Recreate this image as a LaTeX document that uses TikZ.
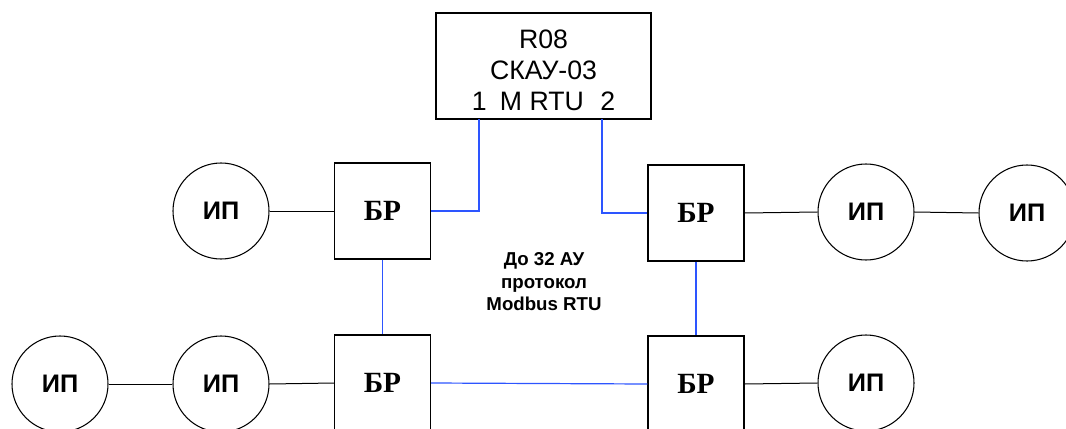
\documentclass[tikz,border=0pt]{standalone}
\usepackage{fontspec}
\setmainfont{Liberation Sans}
\newfontfamily\brfont{Liberation Serif}
\definecolor{busblue}{RGB}{45,85,255}
\begin{document}
\begin{tikzpicture}[x=0.75pt,y=-0.75pt,
  ipcirc/.style={circle,draw=black,line width=0.8pt,minimum size=96*0.75pt,inner sep=0pt,
    font=\fontsize{19pt}{21pt}\selectfont\bfseries},
  brbox/.style={rectangle,draw=black,line width=1pt,minimum width=96*0.75pt,minimum height=96*0.75pt,inner sep=0pt,
    font=\brfont\fontsize{22pt}{24pt}\selectfont\bfseries},
  mainbox/.style={rectangle,draw=black,line width=1pt,minimum width=215*0.75pt,minimum height=106*0.75pt,inner sep=0pt},
  mainlbl/.style={align=center,inner sep=0pt,font=\fontsize{20pt}{23.3pt}\selectfont},
  bus/.style={draw=busblue,line width=0.9pt},
  wire/.style={draw=black,line width=0.75pt},
  note/.style={align=center,inner sep=0pt,font=\fontsize{14pt}{16.9pt}\selectfont\bfseries}
]
\useasboundingbox (0,0) rectangle (1066,428);

\node[mainbox,label={[mainlbl,yshift=-3pt]center:{R08\\СКАУ-03\\1\hspace{0.5em}M RTU\hspace{0.62em}2}}] (top) at (543.5,66) {};

\node[brbox] (b1) at (382.5,211) {\raisebox{-1.5pt}{БР}\hspace{15pt}};
\node[brbox] (b2) at (696,213) {\raisebox{-1.5pt}{БР}\hspace{19.5pt}};
\node[brbox] (b3) at (382.5,383) {\raisebox{-1.5pt}{БР}\hspace{15pt}};
\node[brbox] (b4) at (696,384) {\raisebox{-1.5pt}{БР}\hspace{19.5pt}};

\node[ipcirc] (c1) at (221,211) {ИП};
\node[ipcirc] (c2) at (866,212) {ИП};
\node[ipcirc] (c3) at (1027,213) {ИП};
\node[ipcirc] (c4) at (60,384) {ИП};
\node[ipcirc] (c5) at (221,384) {ИП};
\node[ipcirc] (c6) at (866,383) {ИП};

\node[note] (txt) at (544,282) {До 32 АУ\\протокол\\Modbus RTU};

\coordinate (p1) at (479,119);
\coordinate (p2) at (602,119);

\draw[bus] (p1) |- (b1.east);
\draw[bus] (p2) |- (b2.west);
\draw[bus] (b1.south) -- (b3.north);
\draw[bus] (b2.south) -- (b4.north);
\draw[bus] (b3.east) -- (b4.west);

\draw[wire] (c1.east) -- (b1.west);
\draw[wire] (b2.east) -- (c2.west);
\draw[wire] (c2.east) -- (c3.west);
\draw[wire] (c4.east) -- (c5.west);
\draw[wire] (c5.east) -- (b3.west);
\draw[wire] (b4.east) -- (c6.west);
\end{tikzpicture}
\end{document}
